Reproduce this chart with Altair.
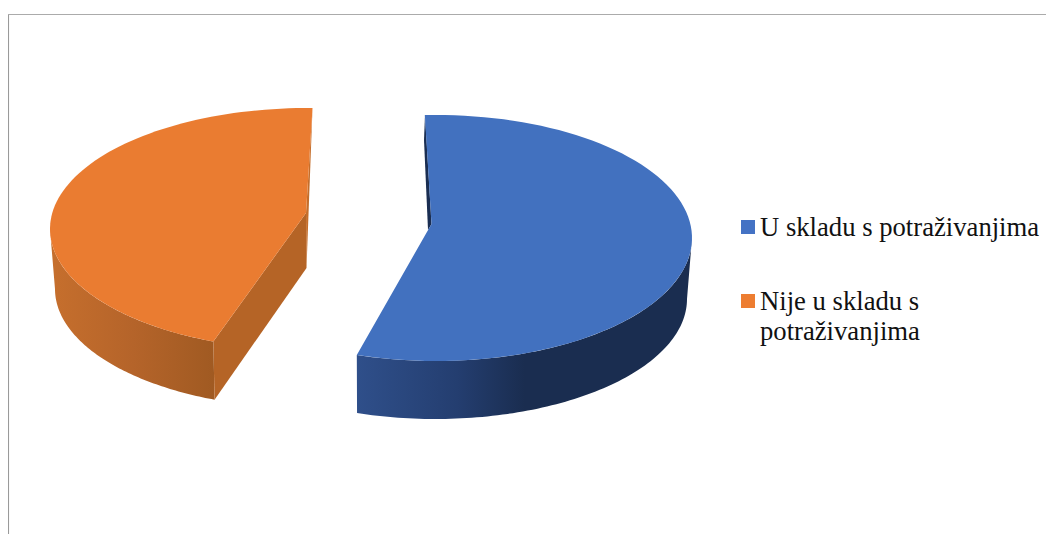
import math
import altair as alt
import pandas as pd

categories = ["U skladu s potraživanjima", "Nije u skladu s potraživanjima"]
legend_lines = [["U skladu s potraživanjima"], ["Nije u skladu s", "potraživanjima"]]
shares = [55.7, 44.3]
colors = ["#4472C4", "#ED7D31"]
top_colors = ["#4271BF", "#EA7C31"]

W, H = 1038, 526
X = alt.Scale(domain=[8, 8 + W], range=[0, W])
Y = alt.Scale(domain=[8, 8 + H], range=[0, H])


def arc(cx, cy, a, b, d0, d1, n=90):
    pts = []
    for i in range(n + 1):
        t = math.radians(d0 + (d1 - d0) * i / n)
        pts.append((cx + a * math.sin(t), cy - b * math.cos(t)))
    return pts


def shape(points, fill):
    df = pd.DataFrame(points, columns=["x", "y"])
    df["i"] = range(len(df))
    return alt.Chart(df).mark_line(fill=fill, strokeWidth=0, clip=False).encode(
        x=alt.X("x:Q", scale=X, axis=None),
        y=alt.Y("y:Q", scale=Y, axis=None),
        order="i:Q",
    )


def grad(stops):
    return alt.LinearGradient(
        gradient="linear", x1=0, x2=1, y1=0, y2=0,
        stops=[alt.GradientStop(offset=o, color=c) for o, c in stops],
    )


# blue slice
b_start = -2.5
b_end = b_start + 360 * shares[0] / 100
bT = (436, 238, 256, 123)
bB = (435, 299, 252, 120)
bV = (431.5, 224)
b_wall = arc(*bT, 90, b_end) + arc(*bB, b_end, 90)
b_top = [bV] + arc(*bT, b_start, b_end)
b_sliver = [(425, 115), (424, 140), (428, 230), bV]

# orange slice
o_end = 361
o_start = o_end - 360 * shares[1] / 100
oT = (308, 229, 258, 121)
oB = (307, 289, 252, 119)
oV = (306, 213)
o_wall = arc(*oT, 270, o_start) + arc(*oB, o_start, 270)
o_top = [oV] + arc(*oT, o_start, o_end)
o_end_pt = arc(*oT, o_start, o_start, 1)[0]
o_end_bot = arc(*oB, o_start, o_start, 1)[0]
o_cut = [oV, (306.5, 268), o_end_bot, o_end_pt]
o_sliver = [arc(*oT, o_end, o_end, 1)[0], oV, (306.5, 268)]

layers = [
    shape(b_sliver, "#1A2E52"),
    shape(b_wall, grad([(0, "#2F4F8A"), (0.3, "#243E70"), (0.5, "#1A2D50"), (1, "#1A2D50")])),
    shape(b_top, top_colors[0]),
    shape(o_sliver, "#C56E2B"),
    shape(o_wall, grad([(0, "#C66F2D"), (0.5, "#B5642A"), (1, "#A05A22")])),
    shape(o_cut, "#B56426"),
    shape(o_top, top_colors[1]),
]

# frame
frame_v = pd.DataFrame({"x": [8.3], "y": [14], "y2": [534]})
frame_h = pd.DataFrame({"x": [8], "x2": [1046], "y": [14.5]})
layers.append(alt.Chart(frame_v).mark_rule(color="#9A9A9A", strokeWidth=1.5).encode(
    x=alt.X("x:Q", scale=X, axis=None), y=alt.Y("y:Q", scale=Y, axis=None), y2="y2:Q"))
layers.append(alt.Chart(frame_h).mark_rule(color="#ABABAB", strokeWidth=1.2).encode(
    x=alt.X("x:Q", scale=X, axis=None), x2="x2:Q", y=alt.Y("y:Q", scale=Y, axis=None)))

# legend
leg = pd.DataFrame({
    "category": categories,
    "lines": legend_lines,
    "sx": [748, 748],
    "sy": [227, 301],
    "tx": [760, 760],
    "ty": [235.5, 310],
})
layers.append(alt.Chart(leg).mark_square(size=196, opacity=1).encode(
    x=alt.X("sx:Q", scale=X, axis=None),
    y=alt.Y("sy:Q", scale=Y, axis=None),
    color=alt.Color("category:N", scale=alt.Scale(domain=categories, range=colors), legend=None),
))
layers.append(alt.Chart(leg).mark_text(
    font="Liberation Serif", fontSize=26.67, align="left", baseline="alphabetic",
    lineHeight=30, color="#111111",
).encode(
    x=alt.X("tx:Q", scale=X, axis=None),
    y=alt.Y("ty:Q", scale=Y, axis=None),
    text="lines:N",
))

chart = alt.layer(*layers).properties(
    width=W, height=H,
    padding=0,
    autosize=alt.AutoSizeParams(type="none"),
).configure_view(stroke=None).resolve_scale(color="independent")

chart.save("out.html", embed_options={"renderer": "svg", "actions": False})
